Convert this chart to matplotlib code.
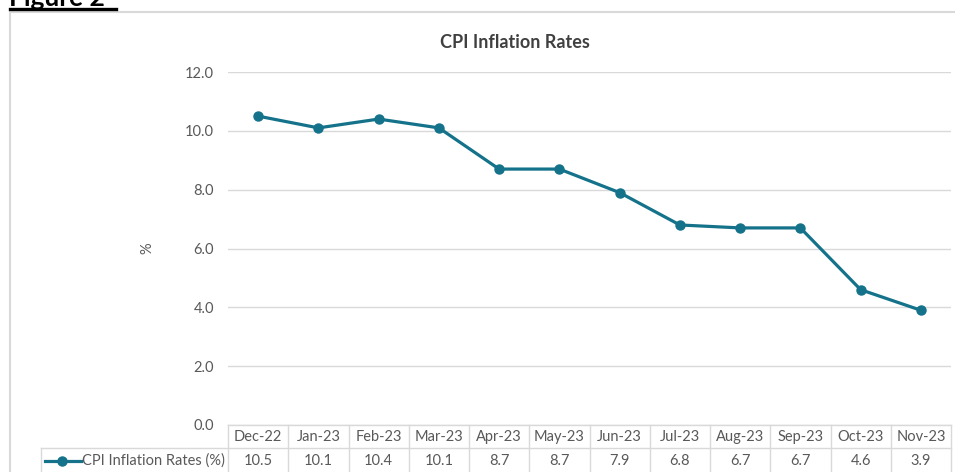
import matplotlib
matplotlib.use("Agg")
import matplotlib.pyplot as plt
from matplotlib.lines import Line2D
from matplotlib.patches import Rectangle
import matplotlib.transforms as mtransforms

months = ["Dec-22", "Jan-23", "Feb-23", "Mar-23", "Apr-23", "May-23",
          "Jun-23", "Jul-23", "Aug-23", "Sep-23", "Oct-23", "Nov-23"]
cpi = [10.5, 10.1, 10.4, 10.1, 8.7, 8.7, 7.9, 6.8, 6.7, 6.7, 4.6, 3.9]
series_name = "CPI Inflation Rates (%)"
title = "CPI Inflation Rates"
yticks = [0, 2, 4, 6, 8, 10, 12]

W, H = 955, 472
fig = plt.figure(figsize=(W / 100, H / 100), dpi=100)
plt.rcParams['font.family'] = ['Lato', 'DejaVu Sans']

line_col = "#14728A"
grid_col = "#D9D9D9"
txt_col = "#595959"

def fx(px):
    return px / W

def fy(py):
    return 1 - py / H

# chart border
fig.patches.append(Rectangle((fx(10), fy(H + 20)), fx(W + 50), fy(12) - fy(H + 20),
                             transform=fig.transFigure, fill=False,
                             edgecolor=grid_col, lw=1.5))

# Figure 2 heading (partially cut off at top, as in the source)
fig.text(fx(9), fy(5.5), "Figure 2", fontsize=19, fontweight="bold",
         color="black", ha="left", va="baseline")
fig.lines.append(Line2D([fx(10), fx(116)], [fy(8.5), fy(8.5)],
                        transform=fig.transFigure, color="black", lw=2.4))

left, right, top, bottom = 228, 951, 72, 425
ax = fig.add_axes([fx(left), fy(bottom), fx(right - left), fy(top) - fy(bottom)])
x = list(range(len(months)))
ax.plot(x, cpi, color=line_col, lw=2.3, marker="o", markersize=6.5, zorder=3)
ax.set_xlim(-0.5, len(months) - 0.5)
ax.set_ylim(0, 12)
ax.set_yticks(yticks)
ax.set_yticklabels([f"{v:.1f}" for v in yticks], color=txt_col, fontsize=10.5)
ax.tick_params(axis="y", length=0, pad=10)
ax.set_xticks([])
ax.grid(axis="y", color=grid_col, lw=1)
for s in ax.spines.values():
    s.set_visible(False)
ax.set_ylabel("%", color=txt_col, fontsize=10.5, labelpad=22)
ax.set_axisbelow(True)

fig.text(fx(515), fy(42), title, fontsize=13, fontweight="bold",
         color="#404040", ha="center", va="center")

# data table
trans = mtransforms.blended_transform_factory(ax.transData, fig.transFigure)
row1_top, row1_bot, row2_bot = 425, 448, 480
tlines = dict(color=grid_col, lw=1, clip_on=False)
ax.add_line(Line2D([-0.5, len(months) - 0.5], [fy(row1_top)] * 2, transform=trans, **tlines))
fig.lines.append(Line2D([fx(41), fx(right)], [fy(row1_bot)] * 2,
                        transform=fig.transFigure, color=grid_col, lw=1))
fig.lines.append(Line2D([fx(41), fx(41)], [fy(row1_bot), fy(row2_bot)],
                        transform=fig.transFigure, color=grid_col, lw=1))
for i in range(len(months) + 1):
    ax.add_line(Line2D([i - 0.5, i - 0.5], [fy(row1_top), fy(row2_bot)],
                       transform=trans, **tlines))
for i, (m, v) in enumerate(zip(months, cpi)):
    ax.text(i, fy(437), m, transform=trans, ha="center", va="center",
            fontsize=10.5, color=txt_col)
    ax.text(i, fy(461), f"{v:.1f}", transform=trans, ha="center", va="center",
            fontsize=10.5, color=txt_col)

# legend key in table
fig.lines.append(Line2D([fx(45), fx(81)], [fy(461)] * 2, transform=fig.transFigure,
                        color=line_col, lw=2.3))
fig.lines.append(Line2D([fx(62)], [fy(461)], transform=fig.transFigure,
                        color=line_col, marker="o", markersize=6.5))
fig.text(fx(82), fy(461), series_name, fontsize=10.5, color=txt_col,
         ha="left", va="center")

fig.savefig("out.png", dpi=100)
